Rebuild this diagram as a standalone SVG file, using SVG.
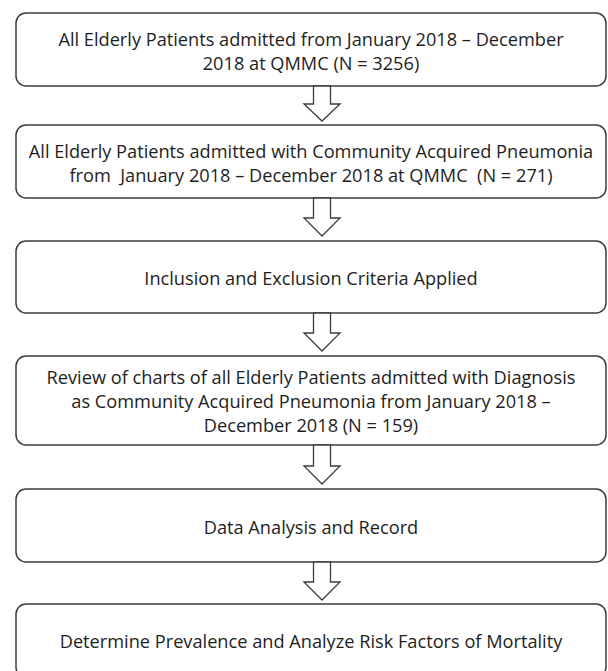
<svg xmlns="http://www.w3.org/2000/svg" width="608" height="671" viewBox="0 0 608 671">
<style>
.box{fill:#fff;stroke:#3c3c3c;stroke-width:1.5}
.arr{fill:#fff;stroke:#3c3c3c;stroke-width:1.3;stroke-linejoin:miter}
text{font-family:"Open Sans","Noto Sans","Liberation Sans",sans-serif;font-size:18.2px;fill:#1e1e1e;text-anchor:middle;white-space:pre}
</style>
<rect width="608" height="671" fill="#fff"/>
<g id="node1">
<rect class="box" x="16" y="13" width="590" height="73" rx="10"/>
<text x="311" y="46">All Elderly Patients admitted from January 2018 – December</text>
<text x="311" y="70">2018 at QMMC (N = 3256)</text>
</g>
<g id="node2">
<rect class="box" x="16" y="125" width="590" height="73" rx="10"/>
<text x="311" y="158">All Elderly Patients admitted with Community Acquired Pneumonia</text>
<text x="311" y="182">from  January 2018 – December 2018 at QMMC  (N = 271)</text>
</g>
<g id="node3">
<rect class="box" x="16" y="241" width="590" height="72" rx="10"/>
<text x="311" y="285">Inclusion and Exclusion Criteria Applied</text>
</g>
<g id="node4">
<rect class="box" x="16" y="356" width="590" height="89" rx="10"/>
<text x="311" y="384">Review of charts of all Elderly Patients admitted with Diagnosis</text>
<text x="311" y="408">as Community Acquired Pneumonia from January 2018 –</text>
<text x="311" y="432">December 2018 (N = 159)</text>
</g>
<g id="node5">
<rect class="box" x="16" y="489" width="590" height="73" rx="10"/>
<text x="311" y="534">Data Analysis and Record</text>
</g>
<g id="node6">
<rect class="box" x="16" y="604" width="590" height="73" rx="10"/>
<text x="311" y="648">Determine Prevalence and Analyze Risk Factors of Mortality</text>
</g>
<g id="connectors">
<path class="arr" d="M313.5 86V104H304L322 121L340 104H330.5V86Z"/>
<path class="arr" d="M313.5 198V218H304L322 236L340 218H330.5V198Z"/>
<path class="arr" d="M313.5 313V333H304L322 351L340 333H330.5V313Z"/>
<path class="arr" d="M313.5 445V466H304L322 484L340 466H330.5V445Z"/>
<path class="arr" d="M313.5 562V582H304L322 600L340 582H330.5V562Z"/>
</g>
</svg>
